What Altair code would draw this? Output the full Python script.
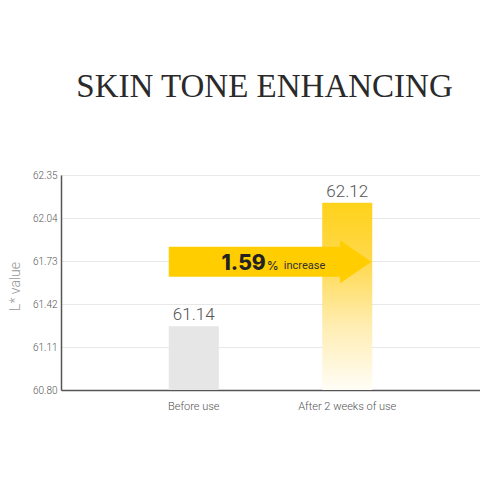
import altair as alt
import pandas as pd

# ---- data ----
categories = ["Before use", "After 2 weeks of use"]
value_labels = ["61.14", "62.12"]          # printed values
bar_tops = [61.26, 62.15]                  # drawn bar heights on the axis
y_ticks = [60.80, 61.11, 61.42, 61.73, 62.04, 62.35]
y_min, y_max = 60.80, 62.35

increase_pct = "1.59"
increase_word = "increase"
arrow_body = [61.617, 61.833]   # arrow shaft, y range
arrow_mid = 61.725              # arrow head centre

title_text = "SKIN TONE ENHANCING"
y_title = "L* value"

df = pd.DataFrame({"cat": categories, "top": bar_tops, "label": value_labels,
                   "base": [y_min, y_min]})
arrow_df = pd.DataFrame({"start": [categories[0]], "end": [categories[1]],
                         "y1": [arrow_body[0]], "y2": [arrow_body[1]],
                         "mid": [arrow_mid], "pct": [increase_pct], "pc": ["%"],
                         "word": [increase_word]})

xscale = alt.Scale(domain=categories, paddingInner=0.674, paddingOuter=0.702)
yscale = alt.Scale(domain=[y_min, y_max], nice=False, zero=False)

x_axis = alt.Axis(title=None, labelAngle=0, ticks=False, labelPadding=10,
                  labelColor="#555", labelFontSize=11, labelFont="Roboto",
                  labelFontWeight=300, domainColor="#555", domainWidth=1.5, grid=False)
y_axis = alt.Axis(values=y_ticks, format=".2f", ticks=False, labelPadding=4,
                  labelColor="#555", labelFontSize=10, labelFont="Roboto",
                  labelFontWeight=300,
                  domainColor="#555", domainWidth=1.5, grid=True, gridColor="#e8e8e8",
                  gridWidth=1, title=y_title, titleColor="#999", titleFontSize=14,
                  titleFont="Roboto", titleFontWeight=300, titleX=-39, titleY=111,
                  titleAngle=270, titleAlign="center", titleBaseline="bottom")

base = alt.Chart(df)

gray_bar = base.transform_filter(alt.datum.cat == categories[0]).mark_bar(
    color="#e6e6e6").encode(
    x=alt.X("cat:N", scale=xscale, axis=x_axis, sort=categories),
    y=alt.Y("top:Q", scale=yscale, axis=y_axis),
    y2="base:Q")

grad = alt.Gradient(gradient="linear",
                    stops=[alt.GradientStop(color="#ffd21a", offset=0),
                           alt.GradientStop(color="#ffd84a", offset=0.3),
                           alt.GradientStop(color="#ffedb0", offset=0.65),
                           alt.GradientStop(color="#fffdf6", offset=1)],
                    x1=0, x2=0, y1=0, y2=1)
yellow_bar = base.transform_filter(alt.datum.cat == categories[1]).mark_bar(
    color=grad).encode(
    x=alt.X("cat:N", sort=categories),
    y="top:Q", y2="base:Q")

labels = base.mark_text(dy=-6, baseline="alphabetic", fontSize=17, font="Roboto",
                        fontWeight=300, color="#555").encode(
    x=alt.X("cat:N", sort=categories), y="top:Q", text="label:N")

ach = alt.Chart(arrow_df)
shaft = ach.mark_rect(color="#ffcd00").encode(
    x=alt.X("start:N", bandPosition=0, sort=categories),
    x2=alt.X2("end", bandPosition=0.4),
    y="y1:Q", y2="y2:Q")
head = ach.mark_point(shape="M -0.33 -1 L 1.12 0 L -0.33 1 Z", size=1849,
                      filled=True, opacity=1, color="#ffcd00").encode(
    x=alt.X("end:N", sort=categories), y="mid:Q")
pct = ach.mark_text(align="right", baseline="alphabetic", dx=72, dy=8, fontSize=21,
                    font="Inter", fontWeight=800, color="#222").encode(
    x=alt.X("start:N", sort=categories), y="mid:Q", text="pct:N")
pc = ach.mark_text(align="left", baseline="alphabetic", dx=73, dy=8, fontSize=12,
                   font="Inter", fontWeight=500, color="#333").encode(
    x=alt.X("start:N", sort=categories), y="mid:Q", text="pc:N")
word = ach.mark_text(align="left", baseline="alphabetic", dx=90, dy=7, fontSize=11,
                     font="Roboto", fontWeight=400, color="#333").encode(
    x=alt.X("start:N", sort=categories), y="mid:Q", text="word:N")

chart = alt.layer(gray_bar, yellow_bar, labels, shaft, head, pct, pc, word).properties(
    width=419, height=215,
    title=alt.TitleParams(title_text, font="Liberation Serif", fontSize=33,
                          fontWeight="normal", color="#2a2a2a", anchor="middle",
                          dx=-6, offset=40, baseline="alphabetic"),
    autosize=alt.AutoSizeParams(type="none"),
    padding={"left": 53, "top": 167, "right": 0, "bottom": 60},
).configure_view(stroke=None).configure(background="white")

chart.save("out.html", embed_options={"renderer": "svg", "actions": False})
